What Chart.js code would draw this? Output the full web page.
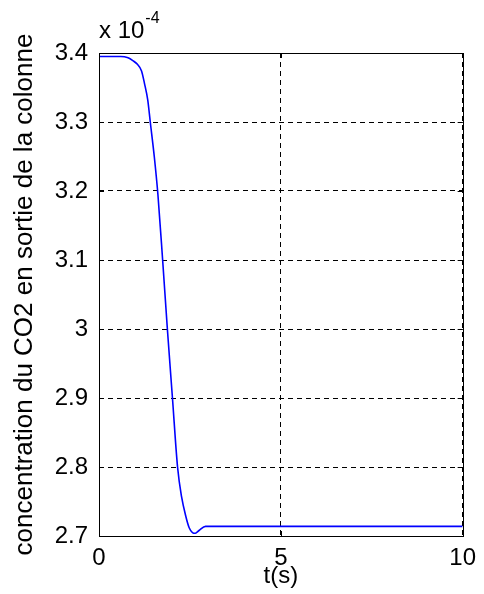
<!DOCTYPE html>
<html>
<head>
<meta charset="utf-8">
<script src="https://cdn.jsdelivr.net/npm/chart.js@4"></script>
<style>
  html, body { margin: 0; padding: 0; background: #fff; }
  #wrap { width: 484px; height: 594px; }
</style>
</head>
<body>
<div id="wrap"><canvas id="co2Chart" width="484" height="594"></canvas></div>
<script>
// t (s) and CO2 concentration at column outlet (units of 1e-4)
const timeS = [0, 0.6, 0.8, 0.93, 1.05, 1.17, 1.25, 1.34, 1.41, 1.52, 1.62, 1.75, 1.88, 2.02, 2.16, 2.27, 2.39, 2.48, 2.57, 2.65, 2.75, 2.93, 10];
const co2 = [3.395, 3.395, 3.393, 3.389, 3.384, 3.374, 3.356, 3.332, 3.30, 3.25, 3.195, 3.10, 3.00, 2.90, 2.80, 2.757, 2.728, 2.712, 2.705, 2.704, 2.708, 2.714, 2.714];
const xTicks = [0, 5, 10];
const yTicks = [2.7, 2.8, 2.9, 3.0, 3.1, 3.2, 3.3, 3.4];
const yExponent = '-4';

const fontFamily = '"Liberation Sans", Arial, sans-serif';

// box, inward tick marks and the "x 10^-4" multiplier
const matlabAxes = {
    id: 'matlabAxes',
    afterDraw(chart) {
        const ctx = chart.ctx;
        const a = chart.chartArea;
        const xs = chart.scales.x, ys = chart.scales.y;
        ctx.save();
        ctx.strokeStyle = '#000';
        ctx.lineWidth = 1;
        ctx.setLineDash([]);
        ctx.strokeRect(Math.round(a.left) + 0.5, Math.round(a.top) + 0.5,
            Math.round(a.right - a.left), Math.round(a.bottom - a.top));
        ctx.beginPath();
        xTicks.forEach(v => {
            const px = Math.round(xs.getPixelForValue(v)) + 0.5;
            ctx.moveTo(px, a.bottom); ctx.lineTo(px, a.bottom - 5);
            ctx.moveTo(px, a.top); ctx.lineTo(px, a.top + 5);
        });
        yTicks.forEach(v => {
            const py = Math.round(ys.getPixelForValue(v)) + 0.5;
            ctx.moveTo(a.left, py); ctx.lineTo(a.left + 5, py);
            ctx.moveTo(a.right, py); ctx.lineTo(a.right - 5, py);
        });
        ctx.stroke();

        ctx.fillStyle = '#000';
        ctx.textBaseline = 'alphabetic';
        ctx.textAlign = 'left';
        ctx.font = '24px ' + fontFamily;
        ctx.fillText('x 10', a.left, 38);
        const w = ctx.measureText('x 10').width;
        ctx.font = '16px ' + fontFamily;
        ctx.fillText(yExponent, a.left + w + 1, 23);
        ctx.restore();
    }
};

const ctx = document.getElementById('co2Chart').getContext('2d');
const co2Chart = new Chart(ctx, {
    type: 'line',
    data: {
        datasets: [
            {
                data: timeS.map((t, i) => ({ x: t, y: co2[i] })),
                borderColor: '#0000ff',
                borderWidth: 1.6,
                pointRadius: 0,
                cubicInterpolationMode: 'monotone',
                fill: false
            }
        ]
    },
    options: {
        responsive: false,
        animation: false,
        layout: { padding: { left: 0, right: 18, top: 53, bottom: 0 } },
        plugins: {
            legend: { display: false },
            tooltip: { enabled: false }
        },
        scales: {
            x: {
                type: 'linear',
                min: 0,
                max: 10,
                afterBuildTicks: s => { s.ticks = xTicks.map(v => ({ value: v })); },
                afterFit: s => { s.height = 58; },
                grid: { color: '#000', lineWidth: 1, drawTicks: false },
                border: { display: false, dash: [5, 4] },
                ticks: { color: '#000', padding: 8, font: { family: fontFamily, size: 24 }, maxRotation: 0 },
                title: { display: true, text: 't(s)', color: '#000', padding: { top: 0, bottom: 3 }, font: { family: fontFamily, size: 24 } }
            },
            y: {
                type: 'linear',
                min: 2.7,
                max: 3.4,
                afterBuildTicks: s => { s.ticks = yTicks.map(v => ({ value: v })); },
                afterFit: s => { s.width = 99; },
                grid: { color: '#000', lineWidth: 1, drawTicks: false },
                border: { display: false, dash: [5, 4] },
                ticks: {
                    color: '#000',
                    padding: 11,
                    font: { family: fontFamily, size: 24 },
                    callback: v => String(Math.round(v * 10) / 10)
                },
                title: { display: true, text: 'concentration du CO2 en sortie de la colonne', color: '#000', padding: { top: 9, bottom: 0 }, font: { family: fontFamily, size: 26 } }
            }
        }
    },
    plugins: [matlabAxes]
});
</script>
</body>
</html>
